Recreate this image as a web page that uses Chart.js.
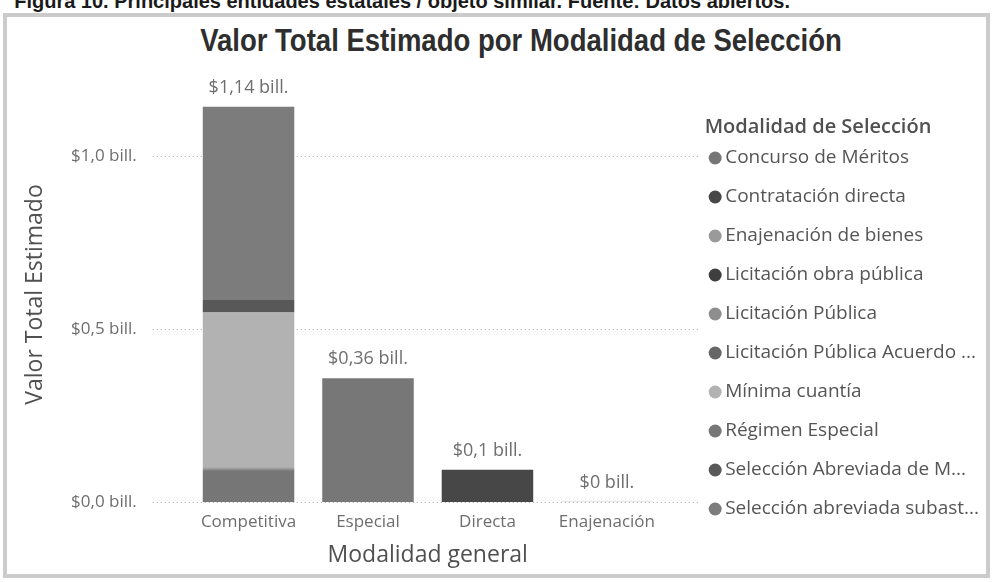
<!DOCTYPE html>
<html lang="es">
<head>
<meta charset="utf-8">
<title>Valor Total Estimado por Modalidad de Selección</title>
<script src="https://cdn.jsdelivr.net/npm/chart.js@4.4.1/dist/chart.umd.min.js"></script>
<style>
  body { margin: 0; background: #fff; overflow: hidden; }
  #wrap { position: relative; width: 992px; height: 582px; overflow: hidden; }
  #caption { position: absolute; right: 202px; top: -10px; line-height: 20px; white-space: nowrap;
    font: bold 20px 'Liberation Sans', Arial, sans-serif; color: #1a1a1a; }
  #frame { position: absolute; left: 3px; top: 13px; width: 979px; height: 557px; border: 4px solid #cbcbcb; }
  #title { position: absolute; left: 121px; width: 800px; top: 22px; line-height: 36px; text-align: center;
    font: bold 32px 'Liberation Sans', Arial, sans-serif; color: #2e2e2e;
    transform: scaleX(0.86); transform-origin: center; }
  #box { position: absolute; left: 0; top: 0; width: 992px; height: 582px; }
</style>
</head>
<body>
<div id="wrap">
  <div id="caption">Figura 10. Principales entidades estatales / objeto similar. Fuente: Datos abiertos.</div>
  <div id="frame"></div>
  <div id="title">Valor Total Estimado por Modalidad de Selección</div>
  <div id="box"><canvas id="chart"></canvas></div>
</div>
<script>
// modalidad general (eje x)
const categories = ['Competitiva', 'Especial', 'Directa', 'Enajenación']

// modalidad de selección (leyenda), valores en billones de pesos por categoría
const modalidades = ['Concurso de Méritos', 'Contratación directa', 'Enajenación de bienes',
  'Licitación obra pública', 'Licitación Pública', 'Licitación Pública Acuerdo ...',
  'Mínima cuantía', 'Régimen Especial', 'Selección Abreviada de M...', 'Selección abreviada subast...']

const concurso = [0.09, 0, 0, 0]
const contratacionDirecta = [0, 0, 0.093, 0]
const enajenacion = [0, 0, 0, 0.001]
const licObra = [0.001, 0, 0, 0]
const licPublica = [0.006, 0, 0, 0]
const licAcuerdo = [0.002, 0, 0, 0]
const minimaCuantia = [0.449, 0, 0, 0]
const regimenEspecial = [0, 0.358, 0, 0]
const selAbreviadaMenor = [0.036, 0, 0, 0]
const selSubasta = [0.559, 0, 0, 0]

const series = [concurso, contratacionDirecta, enajenacion, licObra, licPublica,
  licAcuerdo, minimaCuantia, regimenEspecial, selAbreviadaMenor, selSubasta]

const yTicks = [0, 0.5, 1.0]

const colors = ['#767676', '#474747', '#9a9a9a', '#3f3f3f', '#8e8e8e',
  '#666666', '#b2b2b2', '#777777', '#585858', '#7c7c7c']

Chart.defaults.font.family = "'Open Sans', sans-serif"

function fmtBill(v) {
  const d = v >= 0.2 ? 2 : 1
  return '$' + String(+v.toFixed(d)).replace('.', ',') + ' bill.'
}

// lineas punteadas de la cuadricula, un poco mas anchas que el area de barras
const dottedGrid = {
  id: 'dottedGrid',
  beforeDatasetsDraw(chart) {
    const { ctx, chartArea, scales: { y } } = chart
    ctx.save()
    ctx.strokeStyle = '#a9a9a9'
    ctx.lineWidth = 1
    ctx.setLineDash([1, 3])
    y.ticks.forEach(t => {
      const py = Math.round(y.getPixelForValue(t.value)) + 0.5
      ctx.beginPath()
      ctx.moveTo(chartArea.left - 36, py)
      ctx.lineTo(chartArea.right + 34, py)
      ctx.stroke()
    })
    ctx.restore()
  }
}

// total encima de cada barra
const totalLabels = {
  id: 'totalLabels',
  afterDatasetsDraw(chart) {
    const { ctx, scales: { x, y } } = chart
    ctx.save()
    ctx.font = "18px 'Open Sans'"
    ctx.fillStyle = '#6e6e6e'
    ctx.textAlign = 'center'
    ctx.textBaseline = 'middle'
    categories.forEach((c, i) => {
      const total = chart.data.datasets.reduce((s, d) => s + d.data[i], 0)
      ctx.fillText(fmtBill(total), x.getPixelForValue(i), y.getPixelForValue(total) - 19)
    })
    ctx.restore()
  }
}

// titulo de la leyenda alineado con los puntos
const legendTitle = {
  id: 'legendTitle',
  afterDraw(chart) {
    const box = chart.legend.legendHitBoxes[0]
    const { ctx } = chart
    ctx.save()
    ctx.font = "600 20px 'Open Sans'"
    ctx.fillStyle = '#505050'
    ctx.textBaseline = 'middle'
    ctx.fillText('Modalidad de Selección', box.left - 10, box.top + 9.5 - 31)
    ctx.restore()
  }
}

new Chart(document.getElementById('chart'), {
  type: 'bar',
  data: {
    labels: categories,
    datasets: series.map((d, i) => ({
      label: modalidades[i],
      data: d,
      backgroundColor: colors[i],
      barPercentage: 0.766,
      categoryPercentage: 1
    }))
  },
  options: {
    responsive: true,
    maintainAspectRatio: false,
    animation: false,
    layout: { padding: { left: 10, right: 3, top: 87, bottom: 10 } },
    plugins: {
      legend: {
        position: 'right',
        align: 'start',
        maxWidth: 400,
        title: {
          display: true,
          text: 'Modalidad de Selección',
          color: 'rgba(0,0,0,0)',
          font: { size: 20, weight: 600 },
          padding: { top: 0, bottom: 17.5 }
        },
        labels: {
          usePointStyle: true,
          pointStyle: 'circle',
          boxWidth: 1,
          boxHeight: 9.2,
          padding: 20,
          color: '#555555',
          font: { size: 19 }
        }
      }
    },
    scales: {
      x: {
        stacked: true,
        grid: { display: false, drawTicks: false },
        border: { display: false },
        ticks: { padding: 10, color: '#6e6e6e', font: { size: 17 } },
        title: { display: true, text: 'Modalidad general', color: '#505050', font: { size: 23 }, padding: { top: 4, bottom: 3 } },
        afterFit(s) { s.height = 70 }
      },
      y: {
        stacked: true,
        min: 0,
        max: 1.2,
        grid: { display: false, drawTicks: false },
        border: { display: false },
        afterBuildTicks(s) { s.ticks = yTicks.map(v => ({ value: v })) },
        ticks: {
          padding: 52,
          color: '#6e6e6e',
          font: { size: 17 },
          callback: v => '$' + v.toFixed(1).replace('.', ',') + ' bill.'
        },
        title: { display: true, text: 'Valor Total Estimado', color: '#505050', font: { size: 23 }, padding: { top: 12 } },
        afterFit(s) { s.width = 178.8 }
      },
      y2: {
        position: 'right',
        grid: { display: false, drawTicks: false },
        border: { display: false },
        ticks: { display: false },
        afterFit(s) { s.width = 28 }
      }
    }
  },
  plugins: [dottedGrid, totalLabels, legendTitle]
})
</script>
</body>
</html>
